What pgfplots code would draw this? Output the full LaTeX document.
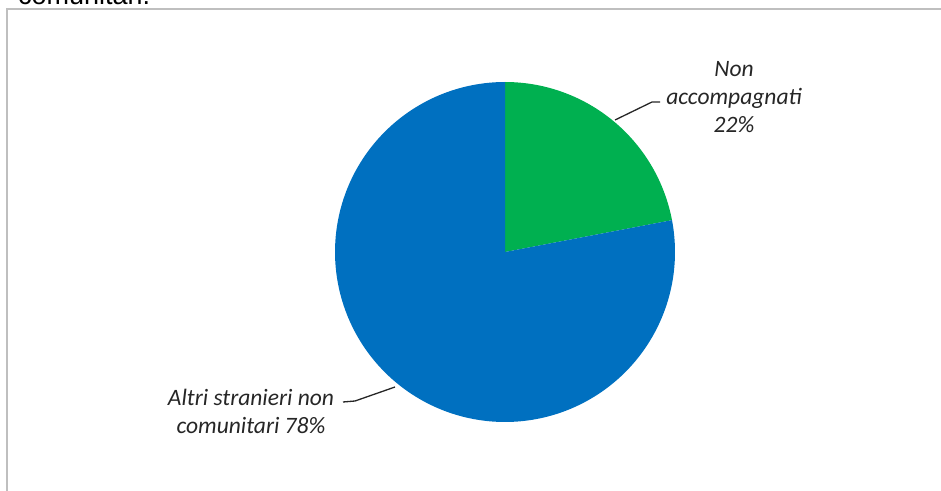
\documentclass[border=0pt]{standalone}
\usepackage{pgfplots}
\pgfplotsset{compat=1.18}
\usepackage{fontspec}
\setmainfont{Carlito}
\newfontfamily\arialfont{Liberation Sans}
\definecolor{pgreen}{HTML}{00B050}
\definecolor{pblue}{HTML}{0070C0}
\begin{document}
\begin{tikzpicture}[x=1pt,y=1pt]
\useasboundingbox (0,0) rectangle (941,490);
\clip (0,0) rectangle (941,490);
% partial caption text cut off at top
\node[anchor=base west, inner sep=0pt, font=\arialfont\fontsize{27}{30}\selectfont] at (18,485) {comunitari.};
% frame
\draw[gray!50, line width=1.5pt] (7,-5) -- (7,481) -- (950,481);
% values
\pgfmathsetmacro{\va}{22}
\pgfmathsetmacro{\vb}{78}
\pgfmathsetmacro{\aStart}{90}
\pgfmathsetmacro{\aMid}{90-\va*3.6}
\pgfmathsetmacro{\aEnd}{90-(\va+\vb)*3.6}
\begin{axis}[
  at={(335pt,68pt)}, anchor=south west,
  width=340pt, height=340pt, scale only axis,
  xmin=-1, xmax=1, ymin=-1, ymax=1,
  hide axis, clip=false,
]
\addplot[fill=pgreen, draw=none, domain=\aMid:\aStart, samples=80, variable=\t] ({cos(\t)},{sin(\t)}) -- (axis cs:0,0) -- cycle;
\addplot[fill=pblue, draw=none, domain=\aEnd:\aMid, samples=200, variable=\t] ({cos(\t)},{sin(\t)}) -- (axis cs:0,0) -- cycle;
\end{axis}
% leader lines
\draw[black!85, line width=1.3pt] (615,370) -- (652,388) -- (660,388);
\draw[black!85, line width=1.3pt] (343,88) -- (355,89) -- (395,103);
% labels
\node[align=center, inner sep=0pt, font=\itshape\fontsize{23.5}{28}\selectfont, text=black!85] at (734,393) {Non\\accompagnati\\22\%};
\node[align=center, inner sep=0pt, font=\itshape\fontsize{23.5}{28}\selectfont, text=black!85] at (251,78.5) {Altri stranieri non\\comunitari 78\%};
\end{tikzpicture}
\end{document}
